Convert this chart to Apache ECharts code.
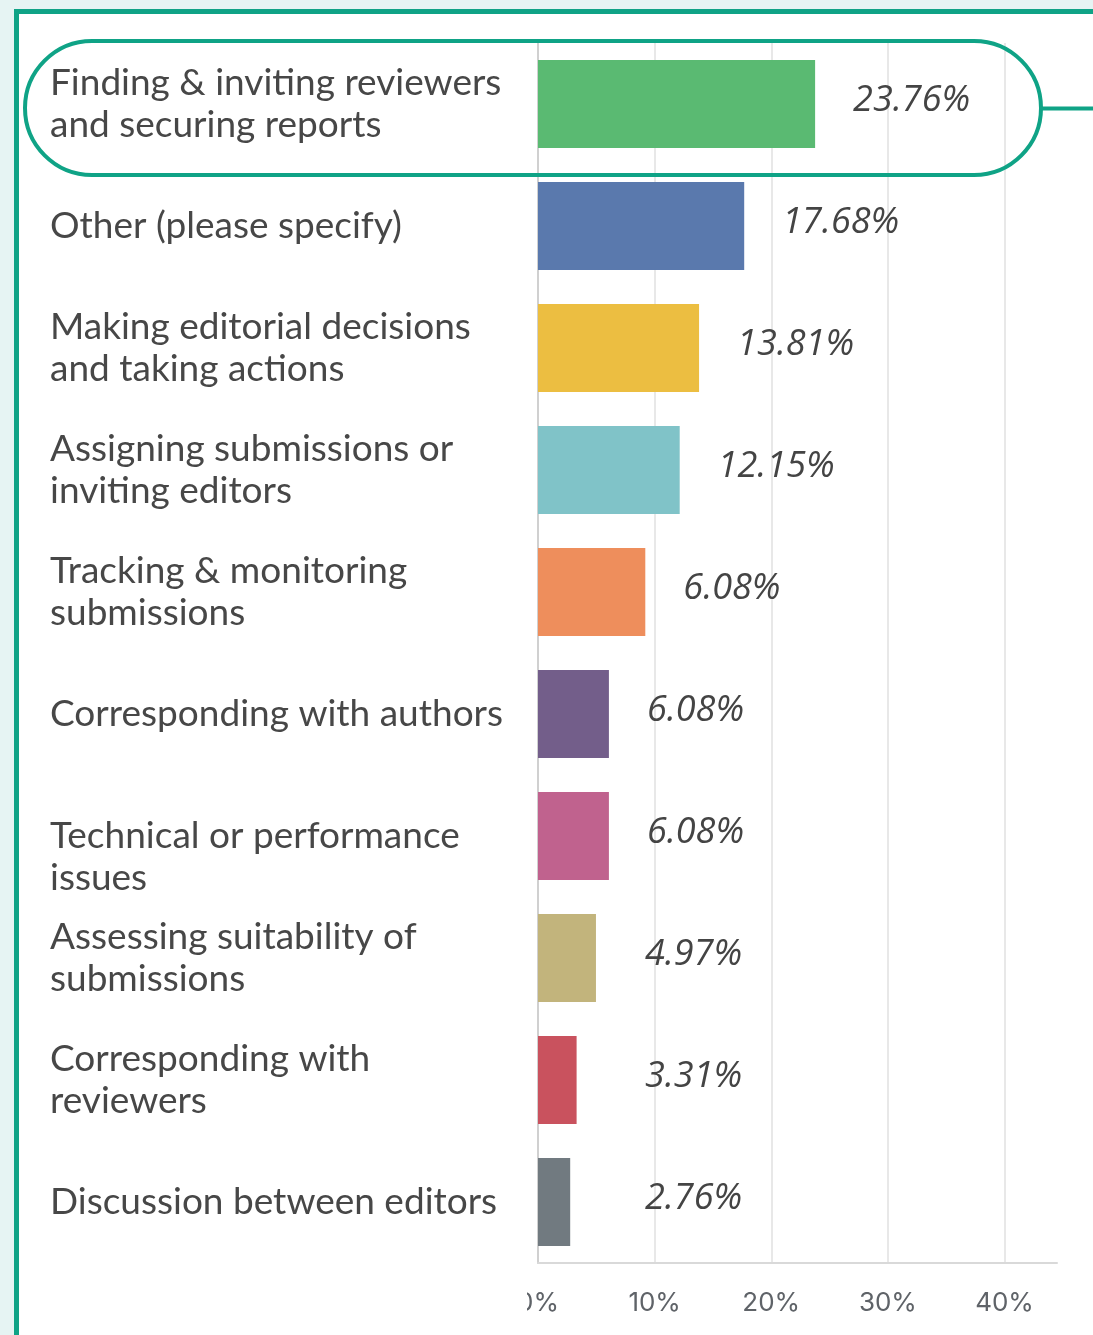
<!DOCTYPE html>
<html>
<head>
<meta charset="utf-8">
<script src="https://cdn.jsdelivr.net/npm/echarts@6/dist/echarts.min.js"></script>
<style>
html,body{margin:0;padding:0;background:#e6f4f3;}
#chart{width:1093px;height:1335px;}
</style>
</head>
<body>
<div id="chart"></div>
<script>
const categories = [
  "Finding & inviting reviewers\nand securing reports",
  "Other (please specify)",
  "Making editorial decisions\nand taking actions",
  "Assigning submissions or\ninviting editors",
  "Tracking & monitoring\nsubmissions",
  "Corresponding with authors",
  "\nTechnical or performance\nissues",
  "Assessing suitability of\nsubmissions",
  "Corresponding with\nreviewers",
  "Discussion between editors"
];
const values = [23.76, 17.68, 13.81, 12.15, 9.2, 6.08, 6.08, 4.97, 3.31, 2.76];
const valueLabels = ["23.76%", "17.68%", "13.81%", "12.15%", "6.08%", "6.08%", "6.08%", "4.97%", "3.31%", "2.76%"];
const barColors = ["#5aba72", "#5a79ad", "#ecbe41", "#80c3c8", "#ee8e5c", "#735e8a", "#c0628e", "#c2b47c", "#c9525e", "#717a80"];
const tickValues = [0, 10, 20, 30, 40];
const tickLabels = ["0%", "10%", "20%", "30%", "40%"];

const teal = "#0fa386";
const chart = echarts.init(document.getElementById('chart'), null, {renderer: 'canvas'});
const gridLeft = 538;

chart.setOption({
  backgroundColor: '#e6f4f3',
  animation: false,
  grid: {left: gridLeft, top: 43, width: 519, height: 1220, containLabel: false},
  xAxis: {
    type: 'value', min: 0, max: 44.5, interval: 10,
    axisLine: {show: true, lineStyle: {color: '#d9d9d9', width: 2}},
    axisTick: {show: false, customValues: tickValues},
    splitLine: {show: true, lineStyle: {color: '#e8e8e8', width: 2}},
    axisLabel: {
      customValues: tickValues,
      formatter: v => tickLabels[tickValues.indexOf(v)] || '',
      fontFamily: 'Inter', fontSize: 26, color: '#5f6368', margin: 27
    }
  },
  yAxis: {
    type: 'category', data: categories, inverse: true,
    axisLine: {show: true, lineStyle: {color: '#d0d0d0', width: 2}},
    axisTick: {show: false},
    splitLine: {show: false},
    axisLabel: {
      align: 'left', margin: gridLeft - 50,
      fontFamily: 'Lato', fontSize: 37, color: '#474747', lineHeight: 42
    }
  },
  series: [{
    type: 'bar',
    data: values.map((v, i) => ({value: v, itemStyle: {color: barColors[i]}})),
    barCategoryGap: '28%',
    z: 3,
    label: {
      show: true, position: 'right', distance: 30,
      formatter: p => valueLabels[p.dataIndex],
      fontFamily: 'Open Sans', fontStyle: 'italic', fontSize: 36, color: '#444444',
      verticalAlign: 'middle'
    },
    labelLayout: function (params) {
      const r = params.rect;
      return {x: Math.max(r.x + r.width + 38, 645), y: r.y + r.height / 2 - 3};
    }
  }],
  graphic: [
    {type: 'rect', z: -10, shape: {x: 16.5, y: 11.5, width: 1200, height: 1500},
     style: {fill: '#ffffff', stroke: teal, lineWidth: 5}},
    {type: 'rect', z: 100, shape: {x: 25, y: 41, width: 1016, height: 134, r: 67},
     style: {fill: 'none', stroke: teal, lineWidth: 4}},
    {type: 'line', z: 100, shape: {x1: 1041, y1: 108.5, x2: 1093, y2: 108.5},
     style: {stroke: teal, lineWidth: 4}},
    {type: 'rect', z: 100, shape: {x: 20, y: 1282, width: 507, height: 50},
     style: {fill: '#ffffff'}}
  ]
});
</script>
</body>
</html>
